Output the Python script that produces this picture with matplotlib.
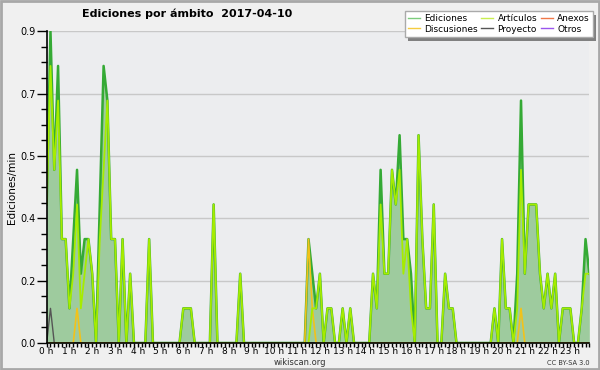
import matplotlib
matplotlib.use("Agg")
import matplotlib.pyplot as plt
from matplotlib.ticker import MultipleLocator, FuncFormatter
from matplotlib.patches import Rectangle

# 10-minute bins over the day (144 points), values in edits/min
hours = [i / 6 for i in range(144)]

ediciones = [
    0.4, 0.9, 0.5, 0.8, 0.3, 0.3, 0.1, 0.3, 0.5, 0.2, 0.3, 0.3,
    0.2, 0.0, 0.4, 0.8, 0.7, 0.3, 0.3, 0.0, 0.3, 0.0, 0.2, 0.0,
    0.0, 0.0, 0.0, 0.3, 0.0, 0.0, 0.0, 0.0, 0.0, 0.0, 0.0, 0.0,
    0.1, 0.1, 0.1, 0.0, 0.0, 0.0, 0.0, 0.0, 0.4, 0.0, 0.0, 0.0,
    0.0, 0.0, 0.0, 0.2, 0.0, 0.0, 0.0, 0.0, 0.0, 0.0, 0.0, 0.0,
    0.0, 0.0, 0.0, 0.0, 0.0, 0.0, 0.0, 0.0, 0.0, 0.3, 0.2, 0.1,
    0.2, 0.0, 0.1, 0.1, 0.0, 0.0, 0.1, 0.0, 0.1, 0.0, 0.0, 0.0,
    0.0, 0.0, 0.2, 0.1, 0.5, 0.2, 0.2, 0.5, 0.4, 0.6, 0.3, 0.3,
    0.2, 0.0, 0.6, 0.3, 0.1, 0.1, 0.4, 0.0, 0.0, 0.2, 0.1, 0.1,
    0.0, 0.0, 0.0, 0.0, 0.0, 0.0, 0.0, 0.0, 0.0, 0.0, 0.1, 0.0,
    0.3, 0.1, 0.1, 0.0, 0.2, 0.7, 0.2, 0.4, 0.4, 0.4, 0.2, 0.1,
    0.2, 0.1, 0.2, 0.0, 0.1, 0.1, 0.1, 0.0, 0.0, 0.1, 0.3, 0.2,
]

articulos = [
    0.4, 0.8, 0.5, 0.7, 0.3, 0.3, 0.1, 0.2, 0.4, 0.1, 0.2, 0.3,
    0.2, 0.0, 0.3, 0.5, 0.7, 0.3, 0.3, 0.0, 0.3, 0.0, 0.2, 0.0,
    0.0, 0.0, 0.0, 0.3, 0.0, 0.0, 0.0, 0.0, 0.0, 0.0, 0.0, 0.0,
    0.1, 0.1, 0.1, 0.0, 0.0, 0.0, 0.0, 0.0, 0.4, 0.0, 0.0, 0.0,
    0.0, 0.0, 0.0, 0.2, 0.0, 0.0, 0.0, 0.0, 0.0, 0.0, 0.0, 0.0,
    0.0, 0.0, 0.0, 0.0, 0.0, 0.0, 0.0, 0.0, 0.0, 0.0, 0.1, 0.1,
    0.2, 0.0, 0.1, 0.1, 0.0, 0.0, 0.1, 0.0, 0.1, 0.0, 0.0, 0.0,
    0.0, 0.0, 0.2, 0.1, 0.4, 0.2, 0.2, 0.5, 0.4, 0.5, 0.2, 0.3,
    0.1, 0.0, 0.6, 0.3, 0.1, 0.1, 0.4, 0.0, 0.0, 0.2, 0.1, 0.1,
    0.0, 0.0, 0.0, 0.0, 0.0, 0.0, 0.0, 0.0, 0.0, 0.0, 0.1, 0.0,
    0.3, 0.1, 0.1, 0.0, 0.1, 0.5, 0.2, 0.4, 0.4, 0.4, 0.2, 0.1,
    0.2, 0.1, 0.2, 0.0, 0.1, 0.1, 0.1, 0.0, 0.0, 0.1, 0.2, 0.2,
]

discusiones = [
    0.0, 0.0, 0.0, 0.0, 0.0, 0.0, 0.0, 0.0, 0.1, 0.0, 0.0, 0.0,
    0.0, 0.0, 0.0, 0.0, 0.0, 0.0, 0.0, 0.0, 0.0, 0.0, 0.0, 0.0,
    0.0, 0.0, 0.0, 0.0, 0.0, 0.0, 0.0, 0.0, 0.0, 0.0, 0.0, 0.0,
    0.0, 0.0, 0.0, 0.0, 0.0, 0.0, 0.0, 0.0, 0.0, 0.0, 0.0, 0.0,
    0.0, 0.0, 0.0, 0.0, 0.0, 0.0, 0.0, 0.0, 0.0, 0.0, 0.0, 0.0,
    0.0, 0.0, 0.0, 0.0, 0.0, 0.0, 0.0, 0.0, 0.0, 0.3, 0.1, 0.0,
    0.0, 0.0, 0.0, 0.0, 0.0, 0.0, 0.0, 0.0, 0.0, 0.0, 0.0, 0.0,
    0.0, 0.0, 0.0, 0.0, 0.0, 0.0, 0.0, 0.0, 0.0, 0.0, 0.0, 0.0,
    0.0, 0.0, 0.0, 0.0, 0.0, 0.0, 0.0, 0.0, 0.0, 0.0, 0.0, 0.0,
    0.0, 0.0, 0.0, 0.0, 0.0, 0.0, 0.0, 0.0, 0.0, 0.0, 0.0, 0.0,
    0.0, 0.0, 0.0, 0.0, 0.0, 0.1, 0.0, 0.0, 0.0, 0.0, 0.0, 0.0,
    0.0, 0.0, 0.0, 0.0, 0.0, 0.0, 0.0, 0.0, 0.0, 0.0, 0.0, 0.0,
]

proyecto = [
    0.0, 0.1, 0.0, 0.0, 0.0, 0.0, 0.0, 0.0, 0.0, 0.0, 0.0, 0.0,
] + [0.0] * 132

anexos = [0.0] * 144
otros = [0.0] * 144

hour_labels = [f"{h} h" for h in range(24)]

fig = plt.figure(figsize=(6.0, 3.7), dpi=100, facecolor="#f0f0f0")
ax = fig.add_axes([0.0778, 0.073, 0.9044, 0.8424])
ax.set_facecolor("#ecedef")

ax.fill_between(hours, ediciones, 0, color="#9ecb9e", lw=0, zorder=2)
l_ed, = ax.plot(hours, ediciones, color="#35aa35", lw=1.8, zorder=3)
l_an, = ax.plot(hours, anexos, color="#f07848", lw=1.0, zorder=3)
l_ot, = ax.plot(hours, otros, color="#9955ee", lw=1.0, zorder=3)
l_pr, = ax.plot(hours, proyecto, color="#555555", lw=1.0, zorder=4)
l_di, = ax.plot(hours, discusiones, color="#f2c21a", lw=1.2, zorder=4)
l_ar, = ax.plot(hours, articulos, color="#a6ec00", lw=1.3, zorder=4)

ax.set_xlim(0, 143 / 6)
ax.set_ylim(0, 0.9)

ax.yaxis.set_major_locator(MultipleLocator(0.18))
ax.yaxis.set_minor_locator(MultipleLocator(0.045))
ax.yaxis.set_major_formatter(FuncFormatter(lambda v, p: f"{v:.1f}"))
ax.set_xticks(range(24))
ax.set_xticklabels(hour_labels)
ax.xaxis.set_minor_locator(MultipleLocator(1 / 6))

ax.tick_params(axis="y", which="major", length=7, width=1, labelsize=7, pad=1)
ax.tick_params(axis="y", which="minor", length=4, width=1)
ax.tick_params(axis="x", which="major", length=3, width=1, labelsize=6.5, pad=0)
ax.tick_params(axis="x", which="minor", length=3, width=1)

ax.grid(axis="y", which="major", color="#c8c8c8", lw=1, zorder=1)
ax.set_axisbelow(True)
for s in ("top", "right"):
    ax.spines[s].set_visible(False)
for s in ("left", "bottom"):
    ax.spines[s].set_color("black")
    ax.spines[s].set_linewidth(1.2)
    ax.spines[s].set_zorder(5)

ax.set_ylabel("Ediciones/min", fontsize=7.5, labelpad=2)

fig.text(0.312, 0.962, "Ediciones por ámbito  2017-04-10", ha="center", va="center",
         fontsize=8, fontweight="bold")
fig.text(0.5, 0.02, "wikiscan.org", ha="center", va="center", fontsize=6, color="#333333")
fig.text(0.982, 0.02, "CC BY-SA 3.0", ha="right", va="center", fontsize=4.8, color="#333333")

# legend with shadow
handles = [l_ed, l_di, l_ar, l_pr, l_an, l_ot]
labels = ["Ediciones", "Discusiones", "Artículos", "Proyecto", "Anexos", "Otros"]
leg = fig.legend(handles, labels, ncol=3, loc="upper right",
                 bbox_to_anchor=(0.988, 0.97), borderaxespad=0, fontsize=6.5,
                 frameon=True, fancybox=False, shadow=False, handlelength=1.3,
                 handletextpad=0.5, columnspacing=0.4, labelspacing=0.15,
                 borderpad=0.35, framealpha=1, edgecolor="#aaaaaa")
leg.get_frame().set_facecolor("white")
leg.get_frame().set_linewidth(1)
legend_colors = ["#7ccc7c", "#f5cc40", "#c8ee50", "#555555", "#f07848", "#9955ee"]
for h, c in zip(leg.legend_handles, legend_colors):
    h.set_linewidth(1.0)
    h.set_color(c)
leg.set_zorder(10)
fig.canvas.draw()
bb = leg.get_window_extent().transformed(fig.transFigure.inverted())
fig.patches.append(Rectangle((bb.x0 + 0.006, bb.y0 - 0.011), bb.width, bb.height,
                             transform=fig.transFigure, facecolor="#808080",
                             edgecolor="none", zorder=9))

# outer frame
fig.patches.append(Rectangle((0.0015, 0.0025), 0.997, 0.995, transform=fig.transFigure,
                             fill=False, edgecolor="#a8a8a8", lw=2, zorder=20))

fig.savefig("out.png", dpi=100, facecolor=fig.get_facecolor())
